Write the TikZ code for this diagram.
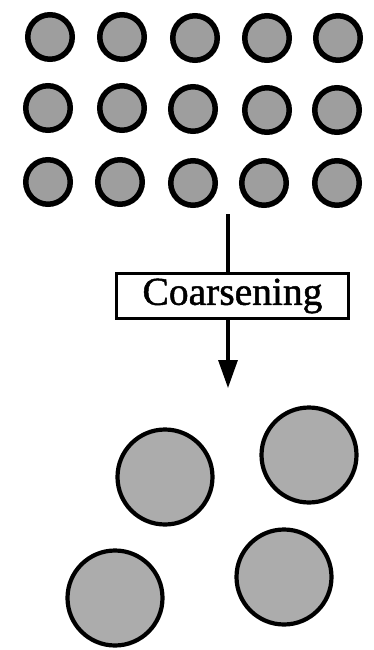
\documentclass[tikz,border=0pt]{standalone}
\usepackage{fontspec}
\setmainfont{Liberation Serif}
\usetikzlibrary{arrows.meta}
\definecolor{smallfill}{RGB}{158,158,158}
\definecolor{bigfill}{RGB}{172,172,172}
\begin{document}
\begin{tikzpicture}[x=1pt,y=-1pt,
  smallp/.style={circle,draw=black,line width=5.5pt,fill=smallfill,minimum size=44.5pt,inner sep=0pt},
  bigp/.style={circle,draw=black,line width=4.2pt,fill=bigfill,minimum size=95pt,inner sep=0pt},
  labelbox/.style={draw=black,line width=3.4pt,fill=white,minimum width=232pt,minimum height=45pt,inner sep=0pt,font=\fontsize{39.5}{40}\selectfont\addfontfeature{FakeBold=1.2}},
  flow/.style={line width=3.2pt}]
\useasboundingbox (0,0) rectangle (374,650);
% small particles
\node[smallp] (s11) at (50,37) {};
\node[smallp] (s12) at (122,37) {};
\node[smallp] (s13) at (195,38) {};
\node[smallp] (s14) at (267,38) {};
\node[smallp] (s15) at (338,38) {};
\node[smallp] (s21) at (48,108) {};
\node[smallp] (s22) at (122,108) {};
\node[smallp] (s23) at (193,109) {};
\node[smallp] (s24) at (267,110) {};
\node[smallp] (s25) at (337,110) {};
\node[smallp] (s31) at (48,182) {};
\node[smallp] (s32) at (120,182) {};
\node[smallp] (s33) at (193,183) {};
\node[smallp] (s34) at (264,183) {};
\node[smallp] (s35) at (337,183) {};
% coarsening arrow
\coordinate (top) at (228,214);
\node[labelbox] (box) at (232.5,296) {Coarsening};
\coordinate (tip) at (228,388);
\draw[flow] (top) -- (top |- box.north);
\draw[flow,-{Triangle[width=19pt,length=28pt]}] (top |- box.south) -- (tip);
% large particles
\node[bigp] (b1) at (165,477) {};
\node[bigp] (b2) at (309,455) {};
\node[bigp] (b3) at (115,598) {};
\node[bigp] (b4) at (284,577) {};
\end{tikzpicture}
\end{document}
